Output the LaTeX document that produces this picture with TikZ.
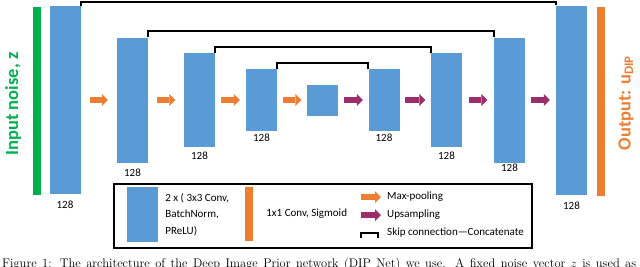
\documentclass[tikz,border=0pt]{standalone}
\usepackage{fontspec}
\newfontfamily\calibri{Carlito}
\usetikzlibrary{arrows.meta, positioning}
\definecolor{blkblue}{HTML}{5B9BD5}
\definecolor{poolorange}{HTML}{ED7D31}
\definecolor{upplum}{HTML}{9B2D6B}
\definecolor{noisegreen}{HTML}{00B050}

\begin{document}
\begin{tikzpicture}[x=1pt, y=-1pt, >=Latex,
  blk/.style={fill=blkblue, minimum width=31pt, inner sep=0pt},
  bar/.style={minimum width=8pt, inner sep=0pt},
  pool/.style={line width=6pt, poolorange,
    -{Triangle[length=6pt, width=12pt, line width=0pt]}},
  upsm/.style={pool, upplum},
  skip/.style={line width=2pt, black},
  dim/.style={font=\calibri\fontsize{11}{13}\selectfont, inner sep=0pt},
  legtxt/.style={font=\calibri\fontsize{11}{16.5}\selectfont, inner sep=0pt, align=left},
  side/.style={rotate=90, font=\calibri\bfseries\fontsize{18.5}{20}\selectfont}]
  \useasboundingbox (0,0) rectangle (640,266);

  % input and output bars
  \node[bar, fill=noisegreen, minimum height=188pt] (zin) at (37,101) {};
  \node[bar, fill=poolorange, minimum height=189pt] (uout) at (601,101.5) {};
  \node[side, text=noisegreen] (tin) at (13,104) {Input noise, z};
  \node[side, text=poolorange] (tout) at (626,103) {Output: u\textsubscript{DIP}};

  % encoder / decoder blocks
  \foreach \n/\x/\h in {b1/65/188, b2/132.5/125, b3/199.5/94, b4/261.5/62,
      b5/322.5/31, b6/384/62, b7/446.5/94, b8/509.5/125, b9/571.5/189}
    \node[blk, minimum height=\h pt] (\n) at (\x,100) {};

  % channel counts
  \node[dim, below=7pt of b1] (c1) {128};
  \node[dim, below=6pt of b2] (c2) {128};
  \node[dim, below=5pt of b3] (c3) {128};
  \node[dim, below=3pt of b4] (c4) {128};
  \node[dim, below=3pt of b6] (c6) {128};
  \node[dim, below=5pt of b7] (c7) {128};
  \node[dim, below=1pt of b8] (c8) {128};
  \node[dim, below=7pt of b9] (c9) {128};

  % down and up arrows
  \foreach \a/\b/\s in {b1/b2/9, b2/b3/8.5, b3/b4/6, b4/b5/5.5}
    \draw[pool, shorten <=\s pt, shorten >=\s pt] (\a) -- (\b);
  \foreach \a/\b/\s in {b5/b6/5.5, b6/b7/5.5, b7/b8/6.5, b8/b9/6}
    \draw[upsm, shorten <=\s pt, shorten >=\s pt] (\a) -- (\b);

  % skip connections
  \draw[skip] (b1.north east) -- ++(0,-4) -| (b9.north west);
  \draw[skip] (b2.north east) -- ++(0,-6) -| (b8.north west);
  \draw[skip] (b3.north east) -- ++(0,-6) -| (b7.north west);
  \draw[skip] (b4.north east) -- ++(0,-6) -| (b6.north west);

  % legend
  \node[draw, line width=2pt, minimum width=418pt, minimum height=64pt] (legend) at (323,216) {};
  \node[blk, minimum height=55pt] (lblk) at (142.5,214.5) {};
  \node[legtxt, right=7pt of lblk] (lblktxt) {2 x ( 3x3 Conv,\\BatchNorm,\\PReLU)};
  \node[bar, fill=poolorange, minimum height=54pt] (lbar) at (249,214) {};
  \node[legtxt, right=13pt of lbar] (lbartxt) {1x1 Conv, Sigmoid};
  \coordinate (lpa) at (361,197);
  \coordinate (lua) at (361,215);
  \coordinate (lsk) at (361,238);
  \node[legtxt, anchor=west] (lmax) at (387,197) {Max-pooling};
  \node[legtxt, anchor=west] (lups) at (387,215) {Upsampling};
  \node[legtxt, anchor=west] (lskp) at (387,233) {Skip connection\textemdash Concatenate};
  \draw[pool, shorten >=6pt] (lpa) -- (lmax.west);
  \draw[upsm, shorten >=6pt] (lua) -- (lups.west);
  \draw[skip] (lsk) -- ++(0,-5) -- ++(17,0) -- ++(0,5);

  % caption, cut by the page edge
  \node[anchor=base west, inner sep=0pt, font=\fontsize{12.5}{14}\selectfont] (cap) at (2,267)
    {\makebox[634pt][s]{Figure 1: The architecture of the Deep Image Prior network (DIP Net) we use. A fixed noise vector $z$ is used as}};
\end{tikzpicture}
\end{document}
